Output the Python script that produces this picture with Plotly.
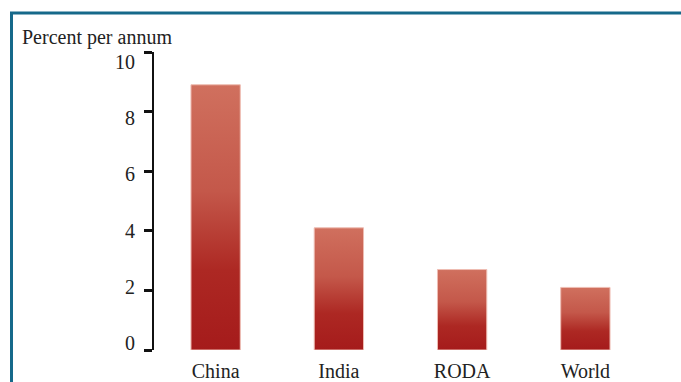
import plotly.graph_objects as go

categories = ["China", "India", "RODA", "World"]
values = [8.9, 4.1, 2.7, 2.1]
y_ticks = [0, 2, 4, 6, 8, 10]
y_title = "Percent per annum"

W, H = 681, 382
L, R, T, B = 154, 34, 52, 32
pw, ph = W - L - R, H - T - B

def px_x(p):
    return (p - L) / pw

def px_y(p):
    return (H - B - p) / ph

FONT = "Liberation Serif"
TXT = "#222"

fig = go.Figure()
half = 0.2
for i, (c, v) in enumerate(zip(categories, values)):
    fig.add_trace(go.Scatter(
        x=[i - half, i + half, i + half, i - half, i - half],
        y=[0, 0, v, v, 0],
        mode="lines",
        fill="toself",
        line=dict(color="#eebcb2", width=1),
        fillgradient=dict(
            type="vertical",
            start=0,
            stop=v,
            colorscale=[[0, "#a51b1b"], [0.3, "#ad2823"], [0.6, "#c4584a"], [1, "#d0705e"]],
        ),
        name=c,
        hoverinfo="skip",
        showlegend=False,
    ))

# invisible trace carrying the label axis
fig.add_trace(go.Scatter(x=[0], y=[0], yaxis="y2", mode="markers",
                         marker=dict(opacity=0), hoverinfo="skip", showlegend=False))

fig.update_layout(
    width=W, height=H,
    margin=dict(l=L, r=R, t=T, b=B, autoexpand=False),
    paper_bgcolor="white",
    plot_bgcolor="white",
    font=dict(family=FONT, size=20, color=TXT),
    showlegend=False,
    xaxis=dict(
        range=[-0.5, 3.5],
        tickvals=list(range(len(categories))),
        ticktext=categories,
        showgrid=False, zeroline=False, showline=False, ticks="",
        ticklabelstandoff=7,
        tickfont=dict(family=FONT, size=20, color=TXT),
        automargin=False,
        fixedrange=True,
    ),
    yaxis=dict(
        range=[0, 10],
        tickvals=y_ticks,
        showticklabels=False,
        showgrid=False, zeroline=False,
        showline=True, linecolor="#111", linewidth=2,
        ticks="outside", ticklen=8, tickwidth=3, tickcolor="#111",
        automargin=False,
        fixedrange=True,
    ),
    yaxis2=dict(
        overlaying="y", side="left", anchor="x",
        range=[-0.249, 10.356],
        tickvals=y_ticks,
        showgrid=False, zeroline=False, showline=False,
        ticks="outside", ticklen=9, tickcolor="rgba(0,0,0,0)",
        ticklabelstandoff=5,
        tickfont=dict(family=FONT, size=20, color=TXT),
        automargin=False,
        fixedrange=True,
    ),
    annotations=[dict(
        text=y_title, xref="paper", yref="paper",
        x=px_x(20), y=px_y(38), xanchor="left", yanchor="middle",
        showarrow=False, font=dict(family=FONT, size=20, color=TXT),
    )],
    shapes=[dict(
        type="rect", xref="paper", yref="paper",
        x0=px_x(11.5), x1=px_x(720), y0=px_y(420), y1=px_y(13),
        line=dict(color="#16698a", width=3), layer="above",
    )],
)

fig.write_html("out.html")
